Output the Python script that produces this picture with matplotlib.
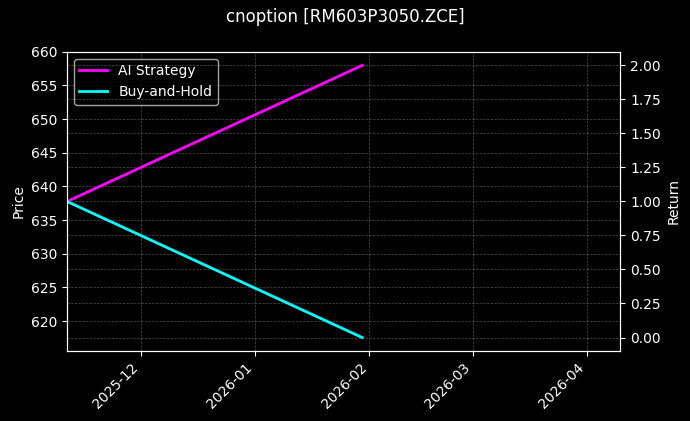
import numpy as np
import pandas as pd
import matplotlib
matplotlib.use("Agg")
import matplotlib.pyplot as plt
import matplotlib.dates as mdates

# values
dates = pd.to_datetime(["2025-11-11", "2026-01-30"])
ai_strategy = [1.0, 2.0]
buy_hold = [1.0, 0.0]
price_limits = (615.55, 660.0)
x_end = pd.Timestamp("2026-04-10")

plt.style.use("dark_background")
fig, ax = plt.subplots(figsize=(6.9, 4.21), dpi=100)
ax2 = ax.twinx()

l1, = ax2.plot(dates, ai_strategy, color="#ff00ff", lw=2, label="AI Strategy")
l2, = ax2.plot(dates, buy_hold, color="#00ffff", lw=2, label="Buy-and-Hold")

ax.set_ylim(*price_limits)
ax.set_xlim(dates[0], x_end)
ax.set_ylabel("Price")
ax2.set_ylabel("Return")

ax.xaxis.set_major_locator(mdates.MonthLocator())
ax.xaxis.set_major_formatter(mdates.DateFormatter("%Y-%m"))
plt.setp(ax.get_xticklabels(), rotation=45, ha="right")

ax.grid(True, ls="--", lw=0.5, alpha=0.3)
ax2.grid(True, ls="--", lw=0.5, alpha=0.3)

ax.legend(handles=[l1, l2], loc="upper left")
fig.suptitle("cnoption [RM603P3050.ZCE]")
fig.subplots_adjust(left=0.097, right=0.899, top=0.877, bottom=0.166)
fig.savefig("out.png", dpi=100)
